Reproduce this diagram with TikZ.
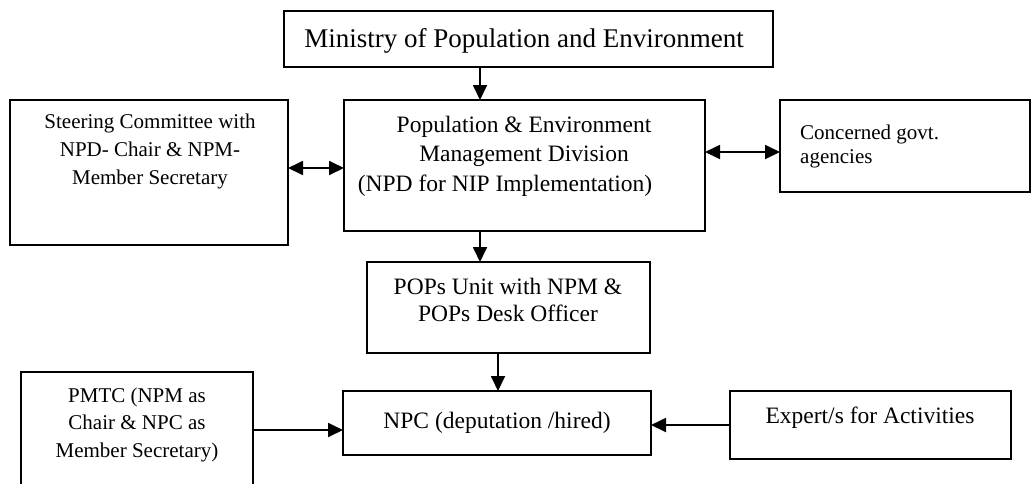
\documentclass[tikz,border=0pt]{standalone}
\usepackage{fontspec}
\setmainfont{Liberation Serif}
\usetikzlibrary{arrows.meta}
\begin{document}
\begin{tikzpicture}[x=1pt,y=-1pt,
  box/.style={draw,line width=1.8pt,inner sep=0pt,outer sep=0pt,rectangle},
  txt/.style={inner sep=0pt,align=center},
  arr/.style={line width=1.8pt,-{Triangle[length=15pt,width=14pt]}},
  darr/.style={line width=1.8pt,{Triangle[length=15pt,width=14pt]}-{Triangle[length=15pt,width=14pt]}},
  base/.style={font=\fontsize{23.5}{29.5}\selectfont},
  small/.style={font=\fontsize{21}{28}\selectfont}]
\useasboundingbox (0,0) rectangle (1035,483);

% boxes
\node[box,minimum width=489pt,minimum height=56pt] (min) at (528.5,39) {};
\node[box,minimum width=361pt,minimum height=131pt] (pemd) at (524.5,165.5) {};
\node[box,minimum width=278pt,minimum height=145pt] (steer) at (149,172.5) {};
\node[box,minimum width=250pt,minimum height=92pt] (conc) at (905,146) {};
\node[box,minimum width=283pt,minimum height=91pt] (pops) at (508.5,307.5) {};
\node[box,minimum width=308pt,minimum height=64pt] (npc) at (497,423) {};
\node[box,minimum width=232pt,minimum height=123pt] (pmtc) at (137,433.5) {};
\node[box,minimum width=281pt,minimum height=68pt] (expert) at (870.5,425) {};

% texts
\node[txt,font=\fontsize{27}{32}\selectfont] (mintxt) at (524,41) {Ministry of Population and Environment};
\node[txt,base] (pemdtxt) at (524,156) {Population \& Environment\\Management Division\\\hspace*{-38pt}(NPD for NIP Implementation)};
\node[txt,small] (steertxt) at (150,151) {Steering Committee with\\NPD- Chair \& NPM-\\Member Secretary};
\node[txt,align=left,anchor=west,font=\fontsize{21}{24}\selectfont] (conctxt) at (800,146) {Concerned govt.\\agencies};
\node[txt,font=\fontsize{23.5}{27}\selectfont] (popstxt) at (508,300) {POPs Unit with NPM \&\\POPs Desk Officer};
\node[txt,base] (npctxt) at (497,423) {NPC (deputation /hired)};
\node[txt,font=\fontsize{21}{27.5}\selectfont] (pmtctxt) at (137,424.5) {PMTC (NPM as\\Chair \& NPC as\\Member Secretary)};
\node[txt,base] (experttxt) at (870,418) {Expert/s for Activities};

% guide coordinates for connector positions
\coordinate (cx1) at (480,0);
\coordinate (cx2) at (498,0);
\coordinate (cy1) at (0,168);
\coordinate (cy2) at (0,152);
\coordinate (cy3) at (0,430);
\coordinate (cy4) at (0,425);

% connectors
\draw[arr] (min.south -| cx1) -- (pemd.north -| cx1);
\draw[darr] (steer.east |- cy1) -- (pemd.west |- cy1);
\draw[darr] (pemd.east |- cy2) -- (conc.west |- cy2);
\draw[arr] (pemd.south -| cx1) -- (pops.north -| cx1);
\draw[arr] (pops.south -| cx2) -- (npc.north -| cx2);
\draw[arr] (pmtc.east |- cy3) -- (npc.west |- cy3);
\draw[arr] (expert.west |- cy4) -- (npc.east |- cy4);
\end{tikzpicture}
\end{document}
